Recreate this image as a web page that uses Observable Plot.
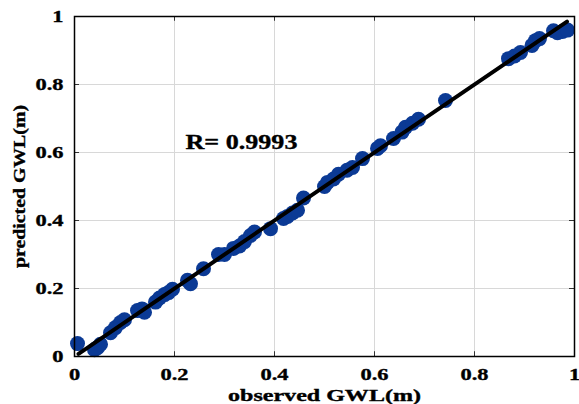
<!DOCTYPE html>
<html>
<head>
<meta charset="utf-8">
<script src="https://cdn.jsdelivr.net/npm/d3@7"></script>
<script src="https://cdn.jsdelivr.net/npm/@observablehq/plot@0.6"></script>
<style>
  html, body { margin: 0; padding: 0; background: #fff; }
  #chart { width: 579px; height: 404px; }
  #chart svg text { stroke: #000; stroke-width: 0.35px; }
</style>
</head>
<body>
<div id="chart"></div>
<script>
const observed = [0.006, 0.046, 0.040, 0.052, 0.072, 0.082, 0.092, 0.100, 0.126, 0.135, 0.140, 0.162, 0.170, 0.180, 0.188, 0.196,
  0.226, 0.232, 0.258, 0.288, 0.300, 0.318, 0.330, 0.340, 0.352, 0.360, 0.392, 0.418, 0.426, 0.436, 0.446, 0.458,
  0.500, 0.506, 0.518, 0.528, 0.545, 0.556, 0.576, 0.606, 0.612, 0.638, 0.655, 0.662, 0.676, 0.688, 0.742,
  0.868, 0.880, 0.892, 0.915, 0.922, 0.930, 0.958, 0.966, 0.976, 0.986];
const predicted = [0.038, 0.026, 0.020, 0.036, 0.070, 0.085, 0.100, 0.108, 0.135, 0.140, 0.130, 0.160, 0.172, 0.182, 0.188, 0.198,
  0.224, 0.214, 0.258, 0.300, 0.300, 0.318, 0.325, 0.338, 0.356, 0.366, 0.376, 0.406, 0.412, 0.422, 0.430, 0.466,
  0.500, 0.512, 0.522, 0.536, 0.548, 0.556, 0.582, 0.612, 0.620, 0.641, 0.660, 0.674, 0.686, 0.698, 0.753,
  0.876, 0.884, 0.894, 0.915, 0.929, 0.935, 0.958, 0.952, 0.956, 0.960];
const fitLine = [[0.008, 0.008], [0.985, 0.985]];
const ticks = [0, 0.2, 0.4, 0.6, 0.8, 1];
const tickLabels = ["0", "0.2", "0.4", "0.6", "0.8", "1"];
const rText = "R= 0.9993";
const xLabel = "observed GWL(m)";
const yLabel = "predicted GWL(m)";

const points = observed.map((x, i) => ({x, y: predicted[i]}));
const fmt = d => tickLabels[ticks.indexOf(d)];

const chart = Plot.plot({
  width: 579,
  height: 404,
  marginLeft: 74,
  marginRight: 5,
  marginTop: 16,
  marginBottom: 48,
  style: {fontFamily: "'Liberation Serif', 'Times New Roman', serif", fontWeight: "bold", fontSize: "18px", color: "#000", background: "#fff"},
  x: {domain: [0, 1]},
  y: {domain: [0, 1]},
  marks: [
    Plot.gridX(ticks, {stroke: "#d8d8d8", strokeOpacity: 1, strokeWidth: 1}),
    Plot.gridY(ticks, {stroke: "#d8d8d8", strokeOpacity: 1, strokeWidth: 1}),
    Plot.axisX(ticks, {tickSize: 0, tickPadding: 12, tickFormat: fmt, fontSize: 16, fontWeight: "bold",
      label: xLabel, labelAnchor: "center", labelArrow: "none", labelOffset: 44}),
    Plot.axisY(ticks, {tickSize: 0, tickPadding: 11, tickFormat: fmt, fontSize: 16, fontWeight: "bold",
      label: yLabel, labelAnchor: "center", labelArrow: "none", labelOffset: 61}),
    Plot.ruleX(ticks.slice(1, -1), {x: d => d, y1: 0, y2: 0.014, stroke: "#333"}),
    Plot.ruleX(ticks.slice(1, -1), {x: d => d, y1: 0.986, y2: 1, stroke: "#333"}),
    Plot.ruleY(ticks.slice(1, -1), {y: d => d, x1: 0, x2: 0.01, stroke: "#333"}),
    Plot.ruleY(ticks.slice(1, -1), {y: d => d, x1: 0.99, x2: 1, stroke: "#333"}),
    Plot.dot(points, {x: "x", y: "y", r: 7.5, fill: "#0b3a95", stroke: "none"}),
    Plot.line(fitLine, {x: d => d[0], y: d => d[1], stroke: "#000", strokeWidth: 4}),
    Plot.text([rText], {x: 0.222, y: 0.61, text: d => d, textAnchor: "start", lineAnchor: "bottom", fontSize: 21, fontWeight: "bold", fill: "#000"}),
    Plot.frame({stroke: "#000", strokeWidth: 1.5})
  ]
});
document.getElementById("chart").appendChild(chart);

// The reference's lettering is horizontally stretched; widen glyphs about each text's own anchor.
function stretch(t, s) {
  const x = parseFloat(t.getAttribute("x")) || 0;
  const tr = t.getAttribute("transform") || "";
  t.setAttribute("transform", `${tr} translate(${x},0) scale(${s},1) translate(${-x},0)`);
}
chart.querySelectorAll('[aria-label="x-axis tick label"] text, [aria-label="y-axis tick label"] text').forEach(t => stretch(t, 1.4));
chart.querySelectorAll('[aria-label="x-axis label"] text').forEach(t => stretch(t, 193 / t.getComputedTextLength()));
chart.querySelectorAll('[aria-label="y-axis label"] text').forEach(t => stretch(t, 163 / t.getComputedTextLength()));
chart.querySelectorAll('[aria-label="text"] text').forEach(t => stretch(t, 112 / t.getComputedTextLength()));
</script>
</body>
</html>
